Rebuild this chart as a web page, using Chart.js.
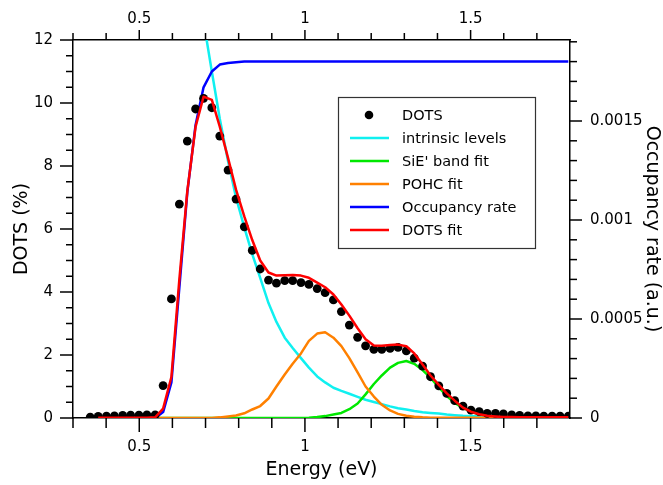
<!DOCTYPE html>
<html><head><meta charset="utf-8">
<script src="https://cdn.jsdelivr.net/npm/chart.js@4.4.1/dist/chart.umd.min.js"></script>
<style>html,body{margin:0;padding:0;background:#fff}#wrap{width:663px;height:485px;position:relative}</style>
</head><body><div id="wrap"><canvas id="c"></canvas></div>
<script>
// ---- data ----
const energies = [0.352,0.376,0.401,0.425,0.450,0.474,0.499,0.523,0.548,0.572,0.597,0.621,0.645,0.670,0.694,0.719,0.743,0.768,0.792,0.817,0.841,0.865,0.890,0.914,0.939,0.963,0.988,1.012,1.037,1.061,1.086,1.110,1.134,1.159,1.183,1.208,1.232,1.257,1.281,1.306,1.330,1.355,1.379,1.404,1.428,1.452,1.477,1.501,1.526,1.550,1.575,1.599,1.624,1.648,1.673,1.697,1.721,1.746,1.770,1.795];
const dotsValues = [0.03,0.05,0.06,0.07,0.08,0.09,0.09,0.10,0.10,1.03,3.78,6.79,8.79,9.81,10.15,9.85,8.95,7.87,6.95,6.07,5.32,4.73,4.38,4.28,4.36,4.36,4.30,4.24,4.11,3.98,3.75,3.38,2.95,2.56,2.29,2.18,2.18,2.21,2.24,2.13,1.90,1.65,1.31,1.02,0.78,0.55,0.38,0.25,0.20,0.15,0.15,0.13,0.10,0.08,0.07,0.07,0.06,0.06,0.06,0.06];
const intrinsicValues = [null,null,null,null,null,null,null,null,null,null,null,null,null,null,12.6,11.0,9.5,8.15,7.0,6.05,5.2,4.45,3.65,3.05,2.55,2.22,1.9,1.6,1.32,1.13,0.96,0.86,0.77,0.67,0.58,0.51,0.44,0.37,0.31,0.27,0.22,0.18,0.16,0.14,0.11,0.09,0.07,0.06,0.05,0.04,0.04,0.04,0.03,0.03,0.03,0.02,0.02,0.02,0.02,0.02];
const sieBandValues = [null,0,0,0,0,0,0,0,0,0,0,0,0,0,0,0,0,0,0,0,0,0,0,0,0,0,0,0.01,0.03,0.06,0.11,0.16,0.28,0.46,0.75,1.08,1.35,1.6,1.75,1.81,1.72,1.52,1.28,0.97,0.7,0.48,0.32,0.2,0.12,0.07,0.05,0.04,0.03,0.02,0.02,0.02,0.01,0.01,0.01,0.01];
const pohcValues = [null,0,0,0,0,0,0,0,0,0,0,0,0,0,0,0,0.02,0.05,0.08,0.15,0.27,0.38,0.62,1.0,1.38,1.72,2.05,2.45,2.68,2.72,2.55,2.28,1.9,1.45,1.0,0.68,0.42,0.24,0.13,0.07,0.04,0.02,0.01,0.01,0.01,0.01,0.01,0.01,0.01,0.01,0.01,0.01,0.01,0.01,0.01,0.01,0.01,0.01,0.01,0.01];
const occupancyValues = [null,0,0,0,0,0,0,0,0,0.00003,0.00018,0.00066,0.00114,0.00148,0.00167,0.00175,0.001785,0.001793,0.001797,0.0018,0.0018,0.0018,0.0018,0.0018,0.0018,0.0018,0.0018,0.0018,0.0018,0.0018,0.0018,0.0018,0.0018,0.0018,0.0018,0.0018,0.0018,0.0018,0.0018,0.0018,0.0018,0.0018,0.0018,0.0018,0.0018,0.0018,0.0018,0.0018,0.0018,0.0018,0.0018,0.0018,0.0018,0.0018,0.0018,0.0018,0.0018,0.0018,0.0018,0.0018];
const dotsFitValues = [null,0.01,0.01,0.01,0.01,0.01,0.01,0.01,0.02,0.3,1.3,4.4,7.2,9.25,10.2,10.1,9.25,8.25,7.25,6.4,5.65,5.0,4.62,4.52,4.53,4.54,4.52,4.45,4.3,4.15,3.92,3.6,3.25,2.85,2.5,2.3,2.29,2.32,2.33,2.28,2.05,1.7,1.35,1.05,0.78,0.55,0.33,0.2,0.12,0.07,0.05,0.03,0.03,0.02,0.02,0.02,0.02,0.02,0.02,0.02];

const legendLabels = ['DOTS','intrinsic levels',"SiE' band fit",'POHC fit','Occupancy rate','DOTS fit'];
const xMajorTicks = [0.5, 1, 1.5];
const xMajorLabels = ['0.5', '1', '1.5'];
const xMinorTicks = [0.3,0.4,0.6,0.7,0.8,0.9,1.1,1.2,1.3,1.4,1.6,1.7];
const yMajorTicks = [0,2,4,6,8,10,12];
const yMajorLabels = ['0','2','4','6','8','10','12'];
const yMinorTicks = [0.5,1,1.5,2.5,3,3.5,4.5,5,5.5,6.5,7,7.5,8.5,9,9.5,10.5,11,11.5];
const y2MajorTicks = [0,0.0005,0.001,0.0015];
const y2MajorLabels = ['0','0.0005','0.001','0.0015'];
const y2MinorTicks = [0.0001,0.0002,0.0003,0.0004,0.0006,0.0007,0.0008,0.0009,0.0011,0.0012,0.0013,0.0014,0.0016,0.0017,0.0018,0.0019];

// ---- styling ----
const C = {dots:'#000000', cyan:'#10f0f0', green:'#00e800', orange:'#ff8000', blue:'#0000ff', red:'#ff0000'};
const FONT = 'DejaVu Sans';
const pts = vals => energies.map((e,i)=>({x:e, y:vals[i]}));
const lineDs = (label, vals, color, axis) => ({label, data: pts(vals), borderColor: color, backgroundColor: color,
  borderWidth: 2.5, pointRadius: 0, tension: 0, spanGaps: false, yAxisID: axis, borderJoinStyle:'round', type:'line', showLine:true});

const tickPlugin = {
  id:'tickmarks',
  afterDraw(chart){
    const ctx = chart.ctx, a = chart.chartArea, s = chart.scales;
    ctx.save(); ctx.strokeStyle='#000'; ctx.lineWidth=1.5;
    const seg=(x1,y1,x2,y2)=>{ctx.beginPath();ctx.moveTo(x1,y1);ctx.lineTo(x2,y2);ctx.stroke();};
    xMajorTicks.forEach(v=>{const x=s.x.getPixelForValue(v); seg(x,a.bottom,x,a.bottom+14); seg(x,a.top,x,a.top-10);});
    xMinorTicks.forEach(v=>{const x=s.x.getPixelForValue(v); seg(x,a.bottom,x,a.bottom+10); seg(x,a.top,x,a.top-7);});
    yMajorTicks.forEach(v=>{const y=s.y.getPixelForValue(v); seg(a.left,y,a.left-13,y);});
    yMinorTicks.forEach(v=>{const y=s.y.getPixelForValue(v); seg(a.left,y,a.left-7,y);});
    y2MajorTicks.forEach(v=>{const y=s.y2.getPixelForValue(v); seg(a.right,y,a.right+12,y);});
    y2MinorTicks.forEach(v=>{const y=s.y2.getPixelForValue(v); seg(a.right,y,a.right+7,y);});
    ctx.restore();
  }
};

const legendPlugin = {
  id:'boxlegend',
  afterDraw(chart){
    const ctx = chart.ctx;
    const bx=338, by=97, bw=197, bh=151;
    ctx.save();
    ctx.fillStyle='#fff'; ctx.fillRect(bx,by,bw,bh);
    ctx.strokeStyle='#333'; ctx.lineWidth=1.2; ctx.strokeRect(bx+0.5,by+0.5,bw,bh);
    const cols=[C.dots,C.cyan,C.green,C.orange,C.blue,C.red];
    ctx.font='14.5px "'+FONT+'"'; ctx.textBaseline='middle'; ctx.textAlign='left';
    legendLabels.forEach((t,i)=>{
      const y = 115 + i*23;
      if(i===0){ctx.fillStyle='#000'; ctx.beginPath(); ctx.arc(369,y,4.3,0,Math.PI*2); ctx.fill();}
      else {ctx.strokeStyle=cols[i]; ctx.lineWidth=2.5; ctx.beginPath(); ctx.moveTo(350,y); ctx.lineTo(389,y); ctx.stroke();}
      ctx.fillStyle='#000'; ctx.fillText(t,402,y+1);
    });
    ctx.restore();
  }
};

const tickFont = {family: FONT, size: 15};
const titleFont = {family: FONT, size: 19, lineHeight: 1.2};
const gridOff = {display:true, drawOnChartArea:false, drawTicks:false};
const border = {display:true, color:'#000', width:1.5};

new Chart(document.getElementById('c'), {
  type: 'line',
  data: { datasets: [
    lineDs('DOTS fit', dotsFitValues, C.red, 'y'),
    {label:'DOTS', data: pts(dotsValues), showLine:false, pointRadius:4.4, pointBorderWidth:0,
      pointBackgroundColor:C.dots, pointBorderColor:C.dots, borderColor:C.dots, backgroundColor:C.dots, yAxisID:'y', type:'line'},
    lineDs('Occupancy rate', occupancyValues, C.blue, 'y2'),
    lineDs('POHC fit', pohcValues, C.orange, 'y'),
    lineDs("SiE' band fit", sieBandValues, C.green, 'y'),
    lineDs('intrinsic levels', intrinsicValues, C.cyan, 'y')
  ]},
  options: {
    responsive:true, maintainAspectRatio:false, animation:false, devicePixelRatio:1,
    layout:{padding:0},
    plugins:{legend:{display:false}, tooltip:{enabled:false}},
    scales:{
      x:{type:'linear', position:'bottom', min:0.3, max:1.8,
        afterBuildTicks:s=>{s.ticks=xMajorTicks.map(v=>({value:v}));},
        ticks:{font:tickFont, color:'#000', padding:20, maxRotation:0, autoSkip:false, callback:(v,i)=>xMajorLabels[i]},
        grid:gridOff, border,
        title:{display:true, text:'Energy (eV)', color:'#000', font:titleFont, padding:{top:0,bottom:4}},
        afterFit:s=>{s.height=67;}},
      x2:{type:'linear', position:'top', min:0.3, max:1.8,
        afterBuildTicks:s=>{s.ticks=xMajorTicks.map(v=>({value:v}));},
        ticks:{font:tickFont, color:'#000', padding:12, maxRotation:0, autoSkip:false, callback:(v,i)=>xMajorLabels[i]},
        grid:gridOff, border,
        afterFit:s=>{s.height=40;}},
      y:{type:'linear', position:'left', min:0, max:12,
        afterBuildTicks:s=>{s.ticks=yMajorTicks.map(v=>({value:v}));},
        ticks:{font:tickFont, color:'#000', padding:20, autoSkip:false, callback:(v,i)=>yMajorLabels[i]},
        grid:gridOff, border,
        title:{display:true, text:'DOTS (%)', color:'#000', font:titleFont, padding:{top:11,bottom:0}},
        afterFit:s=>{s.width=73;}},
      y2:{type:'linear', position:'right', min:0, max:0.0019091,
        afterBuildTicks:s=>{s.ticks=y2MajorTicks.map(v=>({value:v}));},
        ticks:{font:tickFont, color:'#000', padding:20, autoSkip:false, callback:(v,i)=>y2MajorLabels[i]},
        grid:gridOff, border,
        title:{display:true, text:'Occupancy rate (a.u.)', color:'#000', font:titleFont, padding:{top:0,bottom:0}},
        afterFit:s=>{s.width=93;}}
    }
  },
  plugins:[tickPlugin, legendPlugin]
});
</script></body></html>
